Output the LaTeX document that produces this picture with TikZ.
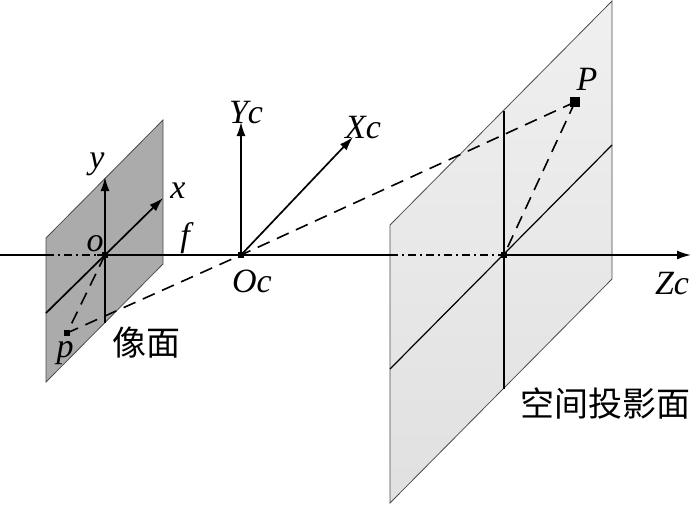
\documentclass[tikz,border=0pt]{standalone}
\usepackage{fontspec}
\setmainfont{Liberation Serif}
\newfontfamily\cjk{Noto Sans CJK SC}
\usetikzlibrary{arrows.meta}
\begin{document}
\begin{tikzpicture}[x=1pt,y=-1pt,
  axis/.style={line width=1.7pt},
  arr/.style={axis,-{Latex[length=14pt,width=9pt]}},
  dd/.style={line width=1.7pt,dash pattern=on 8pt off 4pt on 2pt off 4pt},
  dsh/.style={line width=1.6pt,dash pattern=on 13pt off 8pt},
  thin/.style={line width=1.2pt},
  edge/.style={draw=black!70,line width=0.8pt},
  lbl/.style={font=\fontsize{34}{34}\selectfont\itshape,inner sep=0pt},
  clbl/.style={font=\fontsize{34}{34}\selectfont\cjk,inner sep=0pt},
  dot/.style={fill=black,inner sep=0pt,minimum size=6pt},
  bigdot/.style={fill=black,inner sep=0pt,minimum size=10pt}]
\useasboundingbox (0,0) rectangle (700,507);
% planes
\path[edge,fill=black!33] (46,238) -- (163,120) -- (163,264) -- (46,382) -- cycle;
\path[edge,top color=black!6,bottom color=black!12] (390,225) -- (612,1) -- (612,279) -- (390,503) -- cycle;
% coordinates
\coordinate (L) at (0,255);
\coordinate (S1) at (46,255);
\coordinate (S2) at (97,255);
\coordinate (B1) at (390,255);
\coordinate (B2) at (500,255);
\coordinate (Zt) at (691,255);
\node[dot] (o) at (105,255) {};
\node[dot] (Oc) at (241,255) {};
\node[dot] (C) at (504,255) {};
\node[bigdot] (P) at (575,102) {};
\node[dot] (p) at (67,333) {};
% optical axis
\draw[axis] (L) -- (S1);
\draw[dd] (S1) -- (S2);
\draw[axis] (S2) -- (B1);
\draw[dd] (B1) -- (B2);
\draw[arr] (B2) -- (Zt);
% small plane axes
\coordinate (yb) at (105,323);
\coordinate (yt) at (105,177);
\coordinate (xb) at (46,313);
\coordinate (xt) at (163,198);
\draw[arr] (yb) -- (yt);
\draw[arr] (xb) -- (xt);
% big plane lines
\coordinate (vb) at (504,389);
\coordinate (vt) at (504,111);
\coordinate (db) at (390,369);
\coordinate (dt) at (612,145);
\draw[thin] (vb) -- (vt);
\draw[thin] (db) -- (dt);
% camera axes
\coordinate (Yct) at (241,122);
\coordinate (Xct) at (353,137);
\draw[arr] (Oc.center) -- (Yct);
\draw[arr] (Oc.center) -- (Xct);
% projection rays
\draw[dsh] (P.center) -- (Oc.center) -- (p.center);
\draw[dsh] (P.center) -- (C.center);
\draw[dsh] (o.center) -- (p.center);
\node[dot] at (Oc) {};
\node[dot] at (p) {};
\node[dot] at (C) {};
\node[bigdot] at (P) {};
% labels
\node[lbl] (ly) at (97,164) {y};
\node[lbl] (lx) at (178,191) {x};
\node[lbl] (lo) at (95,244) {o};
\node[lbl] (lf) at (185,238) {f};
\node[lbl] (lOc) at (252,281) {Oc};
\node[lbl] (lYc) at (246,113) {Yc};
\node[lbl] (lXc) at (363,128) {Xc};
\node[lbl] (lP) at (587,79) {P};
\node[lbl] (lp) at (65,353) {p};
\node[lbl] (lZc) at (672,284) {Zc};
\node[clbl] (l1) at (146,343) {像面};
\node[clbl] (l2) at (605,403) {空间投影面};
\end{tikzpicture}
\end{document}
